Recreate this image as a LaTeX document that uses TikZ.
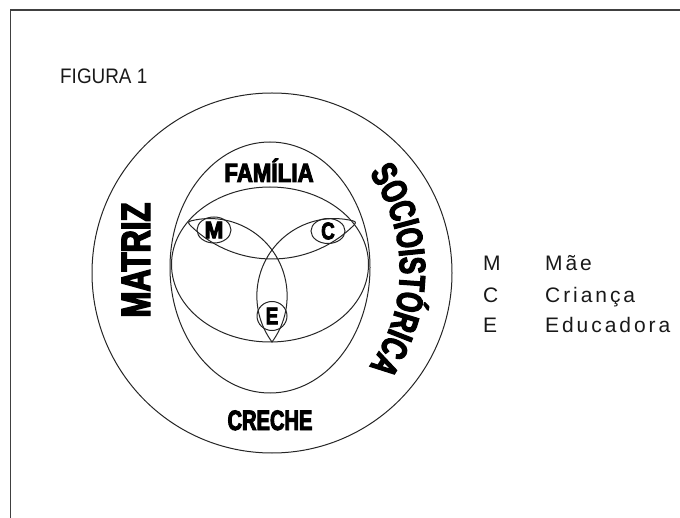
\documentclass[tikz,border=0pt]{standalone}
\usepackage{fontspec}
\setmainfont{Liberation Sans}
\usetikzlibrary{decorations.text,shapes.geometric}
\newfontfamily\heavy[FakeStretch=0.78,FakeBold=3.5]{Liberation Sans Bold}
\newfontfamily\arcfont[FakeStretch=0.71,FakeBold=3.5,LetterSpace=5]{Liberation Sans Bold}
\newfontfamily\legendfont[LetterSpace=14]{Liberation Sans}
\newfontfamily\figfont[FakeStretch=0.9]{Liberation Sans}
\begin{document}
\begin{tikzpicture}[x=1pt,y=1pt,
  ln/.style={draw=black!85, line width=1pt},
  frameline/.style={draw=black!75, line width=1.1pt},
  lbl/.style={inner sep=0pt, text=black},
  small/.style={ellipse, draw=black!85, line width=1pt, inner sep=0pt},
  leg/.style={inner sep=0pt, anchor=base west, text=black!90, font=\legendfont\fontsize{21}{25}\selectfont}]
\useasboundingbox (0,0) rectangle (680,-518);
% frame
\draw[frameline] (680,-10) -- (10.5,-10) -- (10.5,-518);
% title
\node[lbl, anchor=base west, text=black!90] (fig) at (60,-84) {\figfont\fontsize{21}{25}\selectfont FIGURA 1};
% circles and ellipses
\draw[ln] (272,-273) circle[radius=180];
\draw[ln] (270,-267.5) ellipse[x radius=100, y radius=125.5];
\draw[ln] (270,-264.5) ellipse[x radius=98.5, y radius=77.5];
% triquetra: one closed curve of three arcs, rounded at the M and C tips
\coordinate (ms) at (190.97,-220.86);
\draw[ln] (ms) arc[start angle=104, end angle=-36.44, radius=77.44]
  arc[start angle=216.44, end angle=76, radius=77.44]
  .. controls (356.88,-221.83) and (355.53,-223.64) .. (352.65,-226.42)
  arc[start angle=314, end angle=226, radius=116.1]
  .. controls (188.47,-223.64) and (187.09,-221.83) .. (ms) -- cycle;
% small circles with letters
\node[small, minimum width=34pt, minimum height=26pt] (m) at (214,-230) {\heavy\fontsize{24}{26}\selectfont\scalebox{1.2}[1]{M}};
\node[small, minimum width=34pt, minimum height=25pt] (c) at (328,-231) {\heavy\fontsize{24}{26}\selectfont C};
\node[small, minimum width=30pt, minimum height=29pt] (e) at (272,-316) {\heavy\fontsize{24}{26}\selectfont E};
% big labels
\node[lbl, anchor=base] (fam) at (269,-182) {\heavy\fontsize{26.5}{30}\selectfont\scalebox{1.08}[1]{FAMÍLIA}};
\node[lbl, anchor=base] (cre) at (270,-430) {\heavy\fontsize{28}{32}\selectfont\scalebox{0.92}[1]{CRECHE}};
\node[lbl, anchor=base, rotate=90] (mat) at (150,-260) {\heavy\fontsize{41}{44}\selectfont\scalebox{0.97}[1]{MATRIZ}};
\path[decorate, decoration={text along path, text align=center,
  text={|\arcfont\fontsize{36.3}{40}\selectfont|SOCIOISTÓRICA}}]
  (233,-270) ++(60:167) arc[start angle=60, end angle=-60, radius=167];
% legend
\node[leg] (lm) at (483,-271) {M};
\node[leg] (lmt) at (545,-271) {Mãe};
\node[leg] (lc) at (483,-303) {C};
\node[leg] (lct) at (545,-303) {Criança};
\node[leg] (le) at (483,-333) {E};
\node[leg] (let) at (545,-333) {Educadora};
\end{tikzpicture}
\end{document}
